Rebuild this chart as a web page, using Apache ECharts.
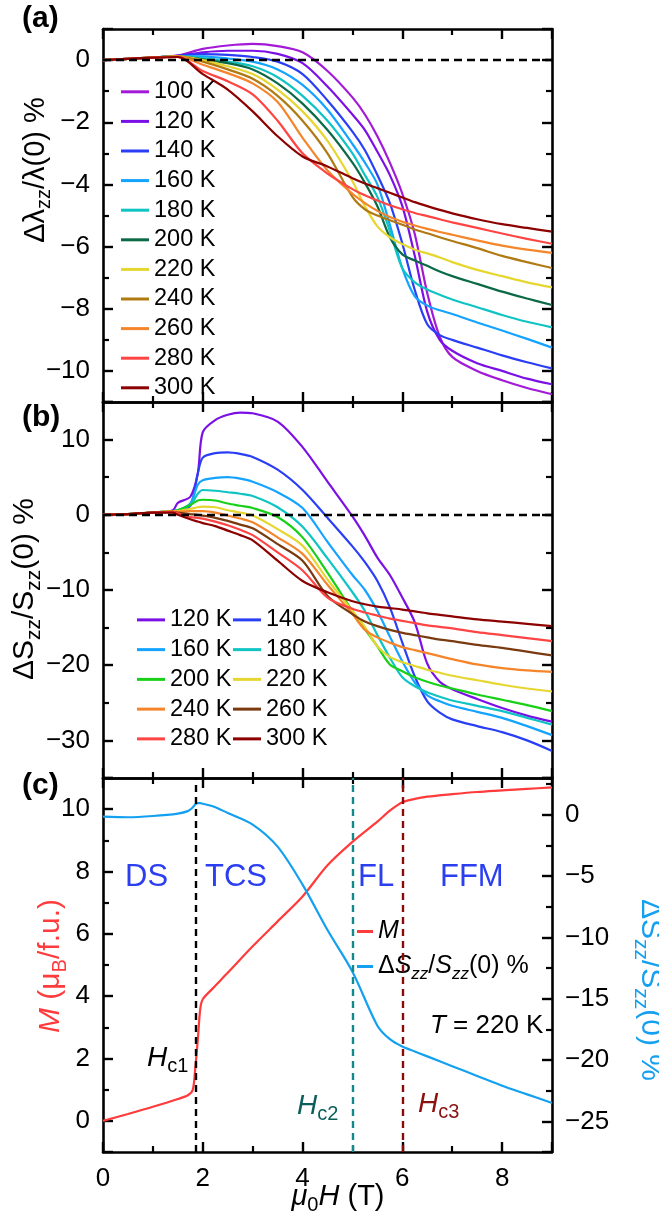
<!DOCTYPE html>
<html>
<head>
<meta charset="utf-8">
<script src="https://cdn.jsdelivr.net/npm/echarts@6/dist/echarts.min.js"></script>
<style>
html, body { margin: 0; padding: 0; background: #fff; }
#chart { width: 659px; height: 1222px; }
</style>
</head>
<body>
<div id="chart"></div>
<script>
// ---- (a) Δλzz/λ(0) %  vs  μ0H (T) ----
const fieldA = [0, 0.5, 1, 1.5, 2, 2.5, 3, 3.5, 4, 4.5, 5, 5.25, 5.5, 5.75, 6, 6.25, 6.5, 6.75, 7, 7.5, 8, 8.5, 9];
const dl100 = [0, 0.04, 0.08, 0.15, 0.36, 0.47, 0.52, 0.45, 0.25, -0.35, -1.2, -1.75, -2.45, -3.3, -4.3, -5.6, -7.5, -8.9, -9.55, -10.0, -10.3, -10.55, -10.75];
const dl120 = [0, 0.04, 0.08, 0.14, 0.25, 0.3, 0.3, 0.2, -0.1, -0.85, -1.75, -2.25, -2.95, -3.7, -4.7, -6.3, -8.1, -9.0, -9.35, -9.75, -10.0, -10.25, -10.43];
const dl140 = [0, 0.04, 0.08, 0.14, 0.19, 0.17, 0.1, -0.05, -0.45, -1.3, -2.3, -2.9, -3.7, -4.6, -5.9, -7.4, -8.5, -8.85, -9.0, -9.25, -9.5, -9.72, -9.92];
const dl160 = [0, 0.04, 0.08, 0.13, 0.12, 0.05, -0.05, -0.3, -0.8, -1.6, -2.7, -3.3, -4.0, -5.3, -6.7, -7.6, -7.9, -8.05, -8.17, -8.44, -8.7, -8.97, -9.25];
const dl180 = [0, 0.04, 0.08, 0.12, 0.06, -0.05, -0.2, -0.55, -1.15, -1.95, -3.0, -3.7, -4.4, -5.5, -6.7, -7.15, -7.38, -7.55, -7.7, -7.95, -8.2, -8.42, -8.6];
const dl200 = [0, 0.04, 0.08, 0.12, 0.02, -0.1, -0.3, -0.75, -1.4, -2.25, -3.3, -3.95, -4.7, -5.7, -6.25, -6.45, -6.62, -6.8, -6.95, -7.2, -7.45, -7.67, -7.88];
const dl220 = [0, 0.04, 0.08, 0.12, 0, -0.2, -0.45, -0.95, -1.65, -2.6, -3.9, -4.7, -5.35, -5.7, -5.92, -6.1, -6.22, -6.35, -6.5, -6.75, -6.95, -7.15, -7.31];
const dl240 = [0, 0.04, 0.08, 0.12, -0.05, -0.3, -0.6, -1.15, -1.95, -3.0, -4.4, -4.8, -5.0, -5.15, -5.3, -5.45, -5.57, -5.7, -5.82, -6.05, -6.3, -6.5, -6.69];
const dl260 = [0, 0.04, 0.08, 0.12, -0.15, -0.42, -0.75, -1.35, -2.5, -3.55, -4.3, -4.6, -4.85, -5.05, -5.2, -5.32, -5.43, -5.53, -5.62, -5.8, -5.97, -6.1, -6.2];
const dl280 = [0, 0.04, 0.08, 0.1, -0.35, -0.68, -1.1, -1.95, -3.0, -3.65, -4.15, -4.35, -4.52, -4.67, -4.8, -4.92, -5.02, -5.12, -5.22, -5.4, -5.58, -5.75, -5.91];
const dl300 = [0, 0.04, 0.08, 0.1, -0.45, -0.95, -1.65, -2.45, -3.1, -3.42, -3.8, -3.97, -4.12, -4.27, -4.42, -4.57, -4.7, -4.82, -4.93, -5.12, -5.28, -5.4, -5.52];

// ---- (b) ΔSzz/Szz(0) % ----
const fieldB = [0, 0.5, 1, 1.4, 1.5, 1.75, 1.9, 2, 2.25, 2.5, 2.75, 3, 3.5, 4, 4.5, 5, 5.25, 5.5, 5.75, 6, 6.25, 6.5, 6.75, 7, 7.5, 8, 8.5, 9];
const ds120 = [0, 0.1, 0.3, 0.6, 1.6, 2.4, 5.5, 11.0, 12.6, 13.3, 13.6, 13.5, 12.4, 9.0, 4.4, -0.2, -2.8, -5.7, -8.0, -11.0, -14.3, -19.8, -22.2, -23.2, -24.5, -25.7, -26.7, -27.5];
const ds140 = [0, 0.1, 0.3, 0.5, 0.55, 1.2, 5.5, 7.6, 8.2, 8.3, 8.1, 7.7, 6.0, 3.3, -0.4, -4.2, -6.3, -8.8, -12.3, -17.0, -21.5, -24.8, -26.3, -27.2, -28.1, -28.9, -30.0, -31.4];
const ds160 = [0, 0.1, 0.3, 0.5, 0.6, 1.5, 4.0, 4.6, 4.9, 5.0, 4.8, 4.4, 3.0, 0.9, -3.6, -8.0, -10.0, -12.8, -16.2, -19.5, -22.3, -24.0, -24.8, -25.4, -26.2, -27.0, -28.1, -29.3];
const ds180 = [0, 0.1, 0.3, 0.5, 0.6, 1.3, 2.8, 3.3, 3.2, 3.0, 2.8, 2.5, 1.0, -1.6, -5.8, -10.3, -12.8, -16.0, -19.0, -21.6, -22.8, -23.6, -24.2, -24.7, -25.4, -26.1, -27.0, -27.9];
const ds200 = [0, 0.1, 0.3, 0.5, 0.6, 1.3, 1.9, 2.0, 1.9, 1.5, 1.2, 0.9, -0.3, -3.0, -7.7, -12.8, -15.2, -17.5, -19.9, -20.8, -21.6, -22.2, -22.7, -23.1, -23.9, -24.6, -25.3, -26.1];
const ds220 = [0, 0.1, 0.3, 0.5, 0.5, 0.8, 1.0, 1.1, 1.0, 0.6, 0.3, -0.1, -1.9, -4.1, -8.6, -12.8, -14.9, -17.5, -18.9, -19.6, -20.1, -20.6, -21.0, -21.4, -22.0, -22.6, -23.1, -23.5];
const ds240 = [0, 0.1, 0.3, 0.45, 0.4, 0.5, 0.5, 0.5, 0.3, -0.1, -0.5, -1.0, -3.0, -5.2, -9.3, -13.2, -15.3, -16.3, -17.0, -17.6, -18.0, -18.4, -18.8, -19.2, -19.9, -20.4, -20.7, -20.9];
const ds260 = [0, 0.1, 0.3, 0.4, 0.3, 0.1, 0, -0.1, -0.4, -0.8, -1.3, -1.8, -3.9, -6.1, -10.8, -13.2, -14.2, -14.8, -15.3, -15.7, -16.0, -16.3, -16.6, -16.8, -17.3, -17.7, -18.2, -18.7];
const ds280 = [0, 0.1, 0.3, 0.4, 0.2, -0.3, -0.4, -0.5, -0.9, -1.4, -2.0, -2.7, -5.0, -7.4, -11.0, -12.5, -13.0, -13.4, -13.8, -14.1, -14.4, -14.7, -14.9, -15.1, -15.6, -16.0, -16.4, -16.8];
const ds300 = [0, 0.1, 0.3, 0.3, 0.0, -0.6, -0.9, -1.1, -1.5, -2.1, -2.7, -3.4, -6.1, -8.8, -10.3, -11.5, -11.9, -12.2, -12.4, -12.6, -12.85, -13.1, -13.3, -13.5, -13.9, -14.2, -14.5, -14.8];

// ---- (c) M 和 ΔSzz/Szz(0) % , T = 220 K ----
const fieldC = [0, 0.5, 1, 1.5, 1.7, 1.8, 1.85, 1.9, 1.95, 2, 2.2, 2.5, 3, 3.5, 4, 4.5, 5, 5.5, 5.75, 6, 6.25, 6.5, 7, 7.5, 8, 8.5, 9];
const magM = [0, 0.22, 0.45, 0.7, 0.82, 1.0, 1.7, 2.6, 3.6, 3.9, 4.25, 4.75, 5.6, 6.4, 7.2, 8.2, 8.95, 9.6, 9.95, 10.22, 10.33, 10.4, 10.48, 10.55, 10.6, 10.65, 10.7];
const dsC = [-0.15, -0.2, -0.1, 0.1, 0.3, 0.6, 0.85, 0.95, 0.95, 0.9, 0.7, 0.15, -0.8, -2.6, -5.7, -9.4, -12.8, -17.2, -18.3, -18.9, -19.3, -19.7, -20.5, -21.3, -22.1, -22.8, -23.5];

// 临界场
const hc = [1.85, 5.0, 6.0];

const tempsA = ['100 K', '120 K', '140 K', '160 K', '180 K', '200 K', '220 K', '240 K', '260 K', '280 K', '300 K'];
const valsA = [dl100, dl120, dl140, dl160, dl180, dl200, dl220, dl240, dl260, dl280, dl300];
const colorsA = ['#a21ad8', '#7b10e6', '#2a3ff5', '#14a3ff', '#10c4c4', '#0b6a45', '#e6d630', '#b07a12', '#f5852a', '#ff4444', '#8c0000'];

const tempsB = ['120 K', '140 K', '160 K', '180 K', '200 K', '220 K', '240 K', '260 K', '280 K', '300 K'];
const valsB = [ds120, ds140, ds160, ds180, ds200, ds220, ds240, ds260, ds280, ds300];
const colorsB = ['#7b10e6', '#2a3ff5', '#14a3ff', '#10c4c4', '#18d018', '#e6d630', '#f5852a', '#7a3a10', '#ff4444', '#8c0000'];

const FONT = "'Liberation Sans', Arial, sans-serif";

const chart = echarts.init(document.getElementById('chart'));

function zip(xs, ys) {
	return xs.map((x, i) => [x, ys[i]]);
}
const minus = v => String(v).replace('-', '\u2212');

// 坐标轴
function xAx(gi, pos, showLabel) {
	return {
		type: 'value', gridIndex: gi, position: pos, min: 0, max: 9,
		minInterval: 2, maxInterval: 2, splitNumber: 5,
		axisLine: { onZero: false, lineStyle: { color: '#000', width: 2.6 } },
		axisTick: { inside: true, length: 10, lineStyle: { color: '#000', width: 2.4 } },
		minorTick: { show: true, splitNumber: 2, length: 6, lineStyle: { color: '#000', width: 2.2 } },
		splitLine: { show: false },
		axisLabel: { show: showLabel, margin: 14, fontSize: 26, color: '#000', fontFamily: FONT, showMaxLabel: false, formatter: minus },
	};
}
function yAx(gi, pos, min, max, step, showLabel) {
	return {
		type: 'value', gridIndex: gi, position: pos, min: min, max: max,
		minInterval: step, maxInterval: step, splitNumber: Math.round((max - min) / step),
		axisLine: { onZero: false, lineStyle: { color: '#000', width: 2.6 } },
		axisTick: { inside: true, length: 10, lineStyle: { color: '#000', width: 2.4 } },
		minorTick: { show: true, splitNumber: 2, length: 6, lineStyle: { color: '#000', width: 2.2 } },
		splitLine: { show: false },
		axisLabel: { show: showLabel, margin: 13, fontSize: 26, color: '#000', fontFamily: FONT, showMinLabel: false, showMaxLabel: false, formatter: minus },
	};
}

const zeroLine = {
	silent: true, symbol: 'none', label: { show: false }, animation: false,
	lineStyle: { type: [8, 5], color: '#000', width: 2.4 },
	data: [{ yAxis: 0 }],
};

const series = [];
tempsA.forEach((t, i) => {
	series.push({
		type: 'line', name: 'a:' + t, xAxisIndex: 0, yAxisIndex: 0,
		data: zip(fieldA, valsA[i]), symbol: 'none', smooth: 0.3,
		lineStyle: { width: 2.2, color: colorsA[i] }, itemStyle: { color: colorsA[i] },
		markLine: i === 0 ? zeroLine : undefined,
	});
});
tempsB.forEach((t, i) => {
	series.push({
		type: 'line', name: 'b:' + t, xAxisIndex: 2, yAxisIndex: 2,
		data: zip(fieldB, valsB[i]), symbol: 'none', smooth: 0.3,
		lineStyle: { width: 2.2, color: colorsB[i] }, itemStyle: { color: colorsB[i] },
		markLine: i === 0 ? zeroLine : undefined,
	});
});
series.push({
	type: 'line', name: 'c:M', xAxisIndex: 4, yAxisIndex: 4,
	data: zip(fieldC, magM), symbol: 'none', smooth: 0.3,
	lineStyle: { width: 2.2, color: '#ff3b3b' }, itemStyle: { color: '#ff3b3b' },
	markLine: {
		silent: true, symbol: 'none', label: { show: false }, animation: false,
		lineStyle: { type: [7, 5], width: 2.4 },
		data: [
			{ xAxis: hc[0], lineStyle: { color: '#000' } },
			{ xAxis: hc[1], lineStyle: { color: '#14898a' } },
			{ xAxis: hc[2], lineStyle: { color: '#8b0a0a' } },
		],
	},
});
series.push({
	type: 'line', name: 'c:S', xAxisIndex: 4, yAxisIndex: 5,
	data: zip(fieldC, dsC), symbol: 'none', smooth: 0.3,
	lineStyle: { width: 2.2, color: '#14a0f0' }, itemStyle: { color: '#14a0f0' },
});

function legendCol(names, left, top, lh, w) {
	return {
		orient: 'vertical', left: left, top: top, padding: 0, itemGap: 0,
		itemWidth: w, itemHeight: 3, icon: 'rect', selectedMode: false,
		data: names,
		formatter: n => n.slice(2),
		textStyle: { fontSize: 23.5, lineHeight: lh, color: '#000', fontFamily: FONT },
	};
}
const legC = legendCol(['c:M', 'c:S'], 357, 914, 35, 16);
legC.formatter = n => (n === 'c:M' ? '{i|M}' : 'Δ{i|S}{s|zz}/{i|S}{s|zz}(0) %');
legC.textStyle = {
	fontSize: 25, lineHeight: 35, color: '#000', fontFamily: FONT,
	rich: {
		i: { fontSize: 25, fontStyle: 'italic', lineHeight: 35, fontFamily: FONT },
		s: { fontSize: 17, fontStyle: 'italic', lineHeight: 35, padding: [15, 0, 0, 0], fontFamily: FONT },
	},
};

// 文字标注
function txt(x, y, text, size, color, extra) {
	const el = {
		type: 'text', x: x, y: y, silent: true, z: 100,
		style: Object.assign({
			text: text, fontSize: size, fontFamily: FONT, fill: color,
			textAlign: 'left', textVerticalAlign: 'middle', align: 'left', verticalAlign: 'middle',
		}, extra || {}),
	};
	return el;
}
function subRich(size, sub, pad) {
	return {
		i: { fontSize: size, fontStyle: 'italic', fontFamily: FONT },
		s: { fontSize: sub, fontFamily: FONT, padding: [pad, 0, 0, 0] },
	};
}
const centered = { textAlign: 'center', align: 'center' };

const graphics = [
	txt(22, 19, '(a)', 30, '#000', { fontWeight: 'bold' }),
	txt(22, 418, '(b)', 30, '#000', { fontWeight: 'bold' }),
	txt(22, 786, '(c)', 30, '#000', { fontWeight: 'bold' }),
	Object.assign(txt(36, 170, 'Δλ{s|zz}/λ(0) %', 29, '#000', Object.assign({ rich: subRich(29, 20, 17.5) }, centered)), { rotation: Math.PI / 2 }),
	Object.assign(txt(25, 589, 'ΔS{s|zz}/S{s|zz}(0) %', 30, '#000', Object.assign({ rich: subRich(30, 21, 18) }, centered)), { rotation: Math.PI / 2 }),
	Object.assign(txt(51, 966, '{i|M} (μ{s|B}/f.u.)', 30, '#ff3b3b', Object.assign({ rich: subRich(30, 20, 18.5) }, centered)), { rotation: Math.PI / 2 }),
	Object.assign(txt(650, 990, 'ΔS{s|zz}/S{s|zz}(0) %', 30, '#14a0f0', Object.assign({ rich: subRich(30, 21, 18) }, centered)), { rotation: -Math.PI / 2 }),
	txt(338, 1197, '{i|μ}{s|0}{i|H} (T)', 29, '#000', Object.assign({ rich: subRich(29, 20, 17) }, centered)),
	txt(125, 877, 'DS', 31, '#2b3ff0'),
	txt(205, 877, 'TCS', 31, '#2b3ff0'),
	txt(358, 877, 'FL', 31, '#2b3ff0'),
	txt(440, 877, 'FFM', 31, '#2b3ff0'),
	txt(430, 1026, '{i|T} = 220 K', 26, '#000', { rich: subRich(26, 18, 16) }),
	txt(147, 1058, '{i|H}{s|c1}', 28, '#000', { rich: subRich(28, 20, 16) }),
	txt(297, 1106, '{i|H}{s|c2}', 28, '#0b5f5a', { rich: subRich(28, 20, 16) }),
	txt(418, 1104, '{i|H}{s|c3}', 28, '#8b1010', { rich: subRich(28, 20, 16) }),
];

const option = {
	animation: false,
	backgroundColor: '#fff',
	textStyle: { fontFamily: FONT },
	grid: [
		{ left: 103, top: 29, width: 449, height: 373 },
		{ left: 103, top: 402, width: 449, height: 376 },
		{ left: 103, top: 778, width: 449, height: 374 },
	],
	xAxis: [
		xAx(0, 'bottom', false), xAx(0, 'top', false),
		xAx(1, 'bottom', false), xAx(1, 'top', false),
		xAx(2, 'bottom', true), xAx(2, 'top', false),
	],
	yAxis: [
		yAx(0, 'left', -11, 1, 2, true), yAx(0, 'right', -11, 1, 2, false),
		yAx(1, 'left', -35, 15, 10, true), yAx(1, 'right', -35, 15, 10, false),
		yAx(2, 'left', -1, 11, 2, true), yAx(2, 'right', -27.5, 3, 5, true),
	],
	legend: [
		legendCol(tempsA.map(t => 'a:' + t), 121, 77, 29.6, 28),
		legendCol(tempsB.filter((t, i) => i % 2 === 0).map(t => 'b:' + t), 137, 605, 29.75, 28),
		legendCol(tempsB.filter((t, i) => i % 2 === 1).map(t => 'b:' + t), 233, 605, 29.75, 28),
		legC,
	],
	series: series,
	graphic: graphics,
};
chart.setOption(option);
</script>
</body>
</html>
